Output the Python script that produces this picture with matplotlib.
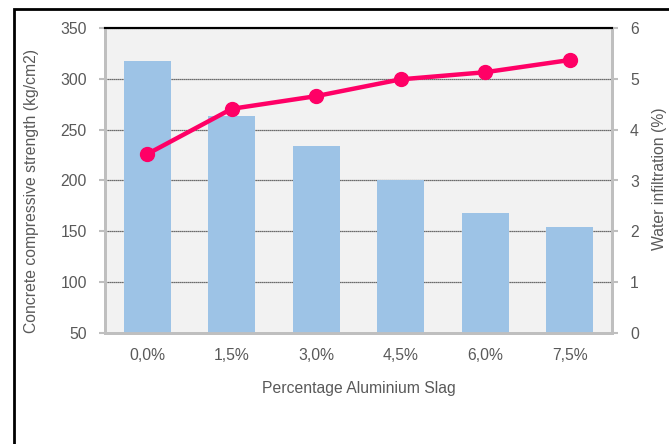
import matplotlib.pyplot as plt
from matplotlib.patches import Rectangle

plt.rcParams['font.family'] = ['Liberation Sans', 'DejaVu Sans']

categories = ["0,0%", "1,5%", "3,0%", "4,5%", "6,0%", "7,5%"]
strength = [318, 263, 234, 200.5, 168, 154]
infiltration = [3.52, 4.41, 4.66, 4.99, 5.13, 5.37]

grey_txt = '#595959'
fs = 11.3
fig = plt.figure(figsize=(6.69, 4.44), dpi=100, facecolor='w')
ax = fig.add_axes([105/669, 1-333/444, (612-105)/669, (333-28)/444])
ax.set_facecolor('#F2F2F2')

x = range(len(categories))
ax.bar(x, [s - 50 for s in strength], bottom=50, width=0.556, color='#9DC3E6', zorder=3)
ax.set_xlim(-0.5, len(categories) - 0.5)
ax.set_ylim(50, 350)
ax.set_yticks(range(50, 351, 50))
ax.set_xticks(list(x))
ax.set_xticklabels(categories)
ax.yaxis.grid(True, color='#404040', linestyle=(0, (1, 0.6)), linewidth=0.9, zorder=1)
ax.set_axisbelow(True)

ax2 = ax.twinx()
ax2.plot(list(x), infiltration, color='#FF0066', linewidth=3.2, marker='o', markersize=10, zorder=5)
ax2.set_ylim(0, 6)
ax2.set_yticks(range(0, 7))

for a in (ax, ax2):
    a.tick_params(axis='y', colors='#BFBFBF', labelcolor=grey_txt, labelsize=fs, length=4, width=1.5, pad=9)
    a.tick_params(axis='x', length=0, labelcolor=grey_txt, labelsize=fs, pad=11)
    for side in ('left', 'right', 'bottom'):
        a.spines[side].set_color('#BFBFBF')
        a.spines[side].set_linewidth(2)
    a.spines['top'].set_color('black')
    a.spines['top'].set_linewidth(1.5)

ax.set_ylabel("Concrete compressive strength (kg/cm2)", color=grey_txt, fontsize=fs, va='center')
ax.yaxis.set_label_coords(-0.144, 0.466)
ax2.set_ylabel("Water infiltration (%)", color=grey_txt, fontsize=fs, va='center')
ax2.yaxis.set_label_coords(1.093, 0.507)
ax.set_xlabel("Percentage Aluminium Slag", color=grey_txt, fontsize=fs, labelpad=13)

fig.add_artist(Rectangle((14/669, -0.1), 1.0, (444-9)/444 + 0.1, transform=fig.transFigure,
                         fill=False, edgecolor='black', linewidth=2, clip_on=False))

plt.savefig("out.png", dpi=100)
